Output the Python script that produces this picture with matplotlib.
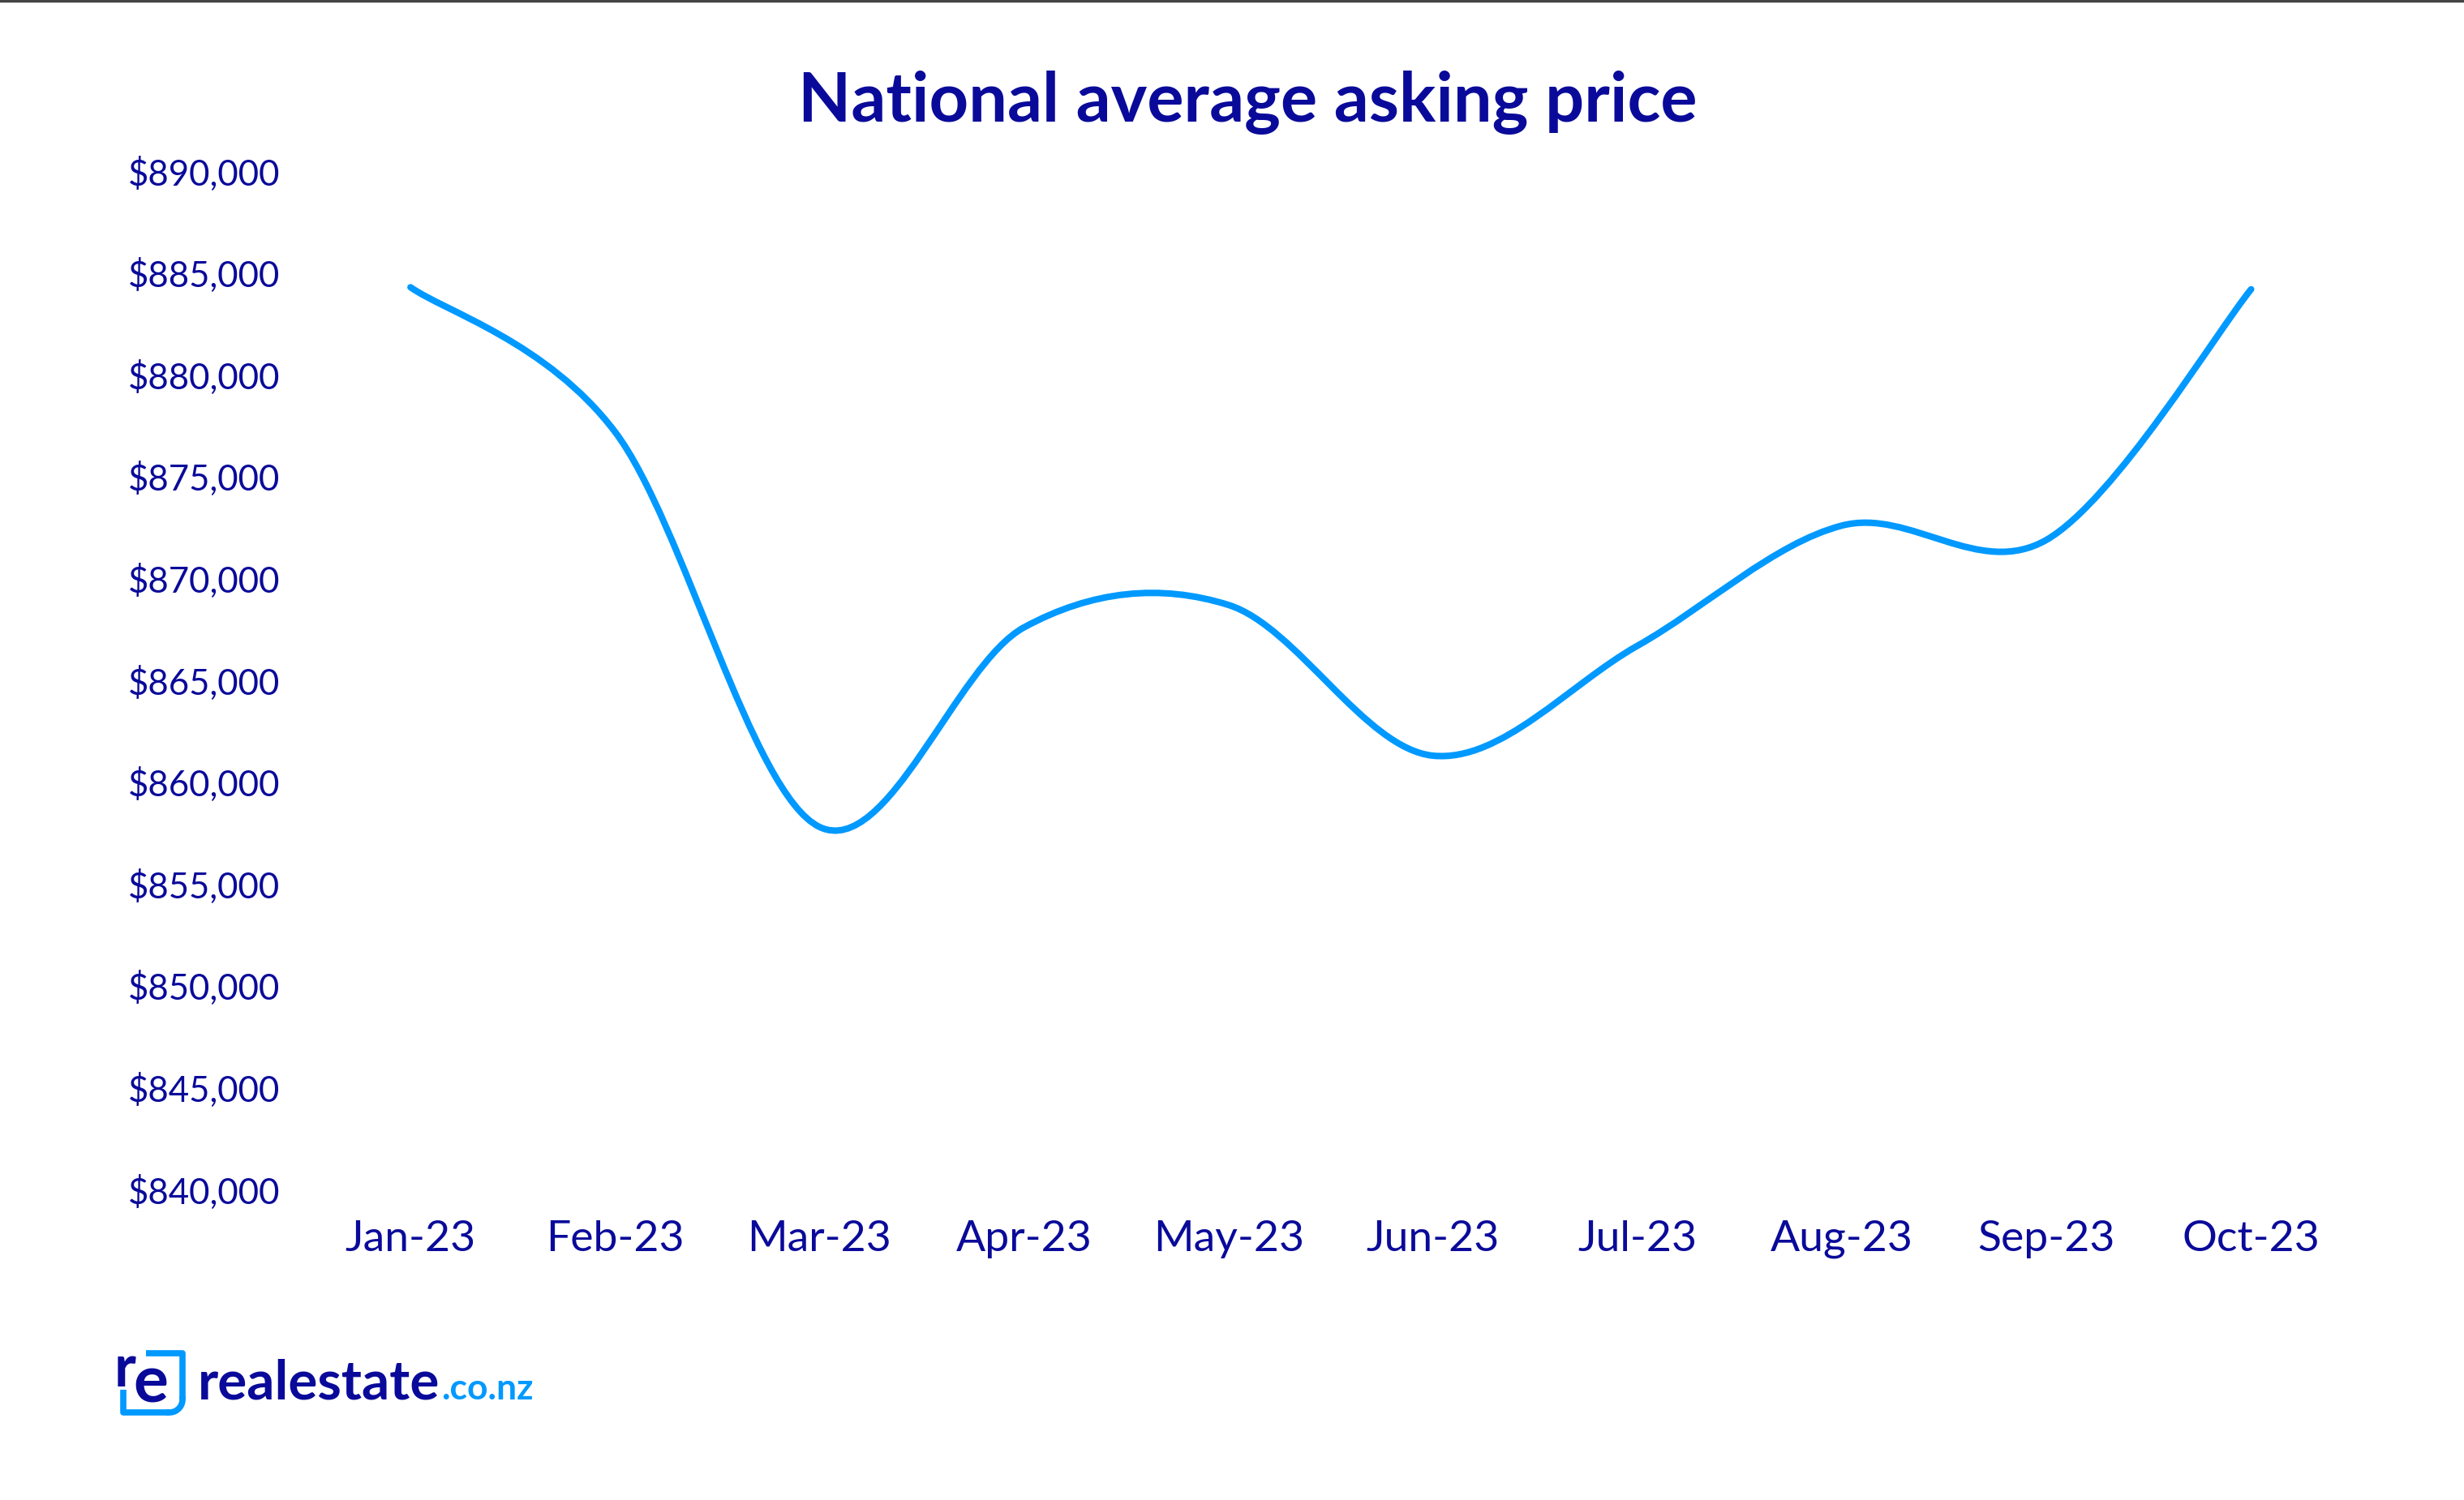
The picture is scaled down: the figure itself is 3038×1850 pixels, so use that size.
import matplotlib
matplotlib.use("Agg")
import matplotlib.pyplot as plt
import numpy as np
from matplotlib.path import Path
from matplotlib.patches import PathPatch
from matplotlib.lines import Line2D

# data
months = ['Jan-23', 'Feb-23', 'Mar-23', 'Apr-23', 'May-23',
          'Jun-23', 'Jul-23', 'Aug-23', 'Sep-23', 'Oct-23']
asking_price = [884300, 877200, 857800, 867600, 868700,
                861300, 866700, 872600, 871900, 884200]
y_ticks = [840000, 845000, 850000, 855000, 860000, 865000,
           870000, 875000, 880000, 885000, 890000]

navy = '#0a0a9a'
blue = '#0099ff'
plt.rcParams['font.family'] = ['Lato', 'DejaVu Sans']

fig = plt.figure(figsize=(30.38, 18.5), dpi=100)
ax = fig.add_axes([0.1251, 0.2070, 0.830, 0.6789])

# smoothed line (excel style), bezier segments through each point
x = np.arange(len(asking_price), dtype=float)
y = np.array(asking_price, dtype=float)
pts = np.column_stack([x, y])
ext = np.vstack([pts[0], pts, pts[-1]])
verts = [pts[0]]
codes = [Path.MOVETO]
for i in range(len(pts) - 1):
    p0, p1, p2, p3 = ext[i], ext[i + 1], ext[i + 2], ext[i + 3]
    verts += [p1 + (p2 - p0) / 6, p2 - (p3 - p1) / 6, p2]
    codes += [Path.CURVE4] * 3
ax.add_patch(PathPatch(Path(verts, codes), fill=False, edgecolor=blue,
                       lw=5.8, capstyle='round', joinstyle='round'))

ax.set_xlim(-0.5, len(months) - 0.5)
ax.set_ylim(840000, 890000)
ax.set_xticks(x)
ax.set_xticklabels(months)
ax.set_yticks(y_ticks)
ax.set_yticklabels(['${:,.0f}'.format(v) for v in y_ticks])
ax.tick_params(axis='x', length=0, pad=27, labelsize=38.5, labelcolor=navy)
ax.tick_params(axis='y', length=0, pad=25, labelsize=31.5, labelcolor=navy)
for s in ax.spines.values():
    s.set_visible(False)

fig.text(0.5065, 0.932, 'National average asking price', ha='center', va='center',
         fontsize=61, fontweight='bold', color=navy)

# thin border at the top of the image
fig.add_artist(Line2D([0, 1], [0.9995, 0.9995], color='#444444', lw=2.5,
                      transform=fig.transFigure))

# logo
lg = fig.add_axes([0, 0, 1, 1], zorder=-1)
lg.set_xlim(0, 3038)
lg.set_ylim(1850, 0)
lg.axis('off')
lg.plot([180, 225, 225], [1669, 1669, 1726], color=blue, lw=5.5,
        solid_capstyle='butt')
t = np.linspace(0, np.pi / 2, 20)
lg.plot(209 + 16 * np.cos(t), 1726 + 16 * np.sin(t), color=blue, lw=5.5)
lg.plot([209, 152, 152], [1742, 1742, 1714], color=blue, lw=5.5,
        solid_capstyle='butt')
lg.text(141, 1690, 'r', fontsize=52, fontweight='bold', color=navy,
        ha='left', va='center', family='Lato')
lg.text(186, 1707, 'e', fontsize=58, fontweight='bold', color=navy,
        ha='center', va='center', family='Lato')
tx = lg.text(244, 1726, 'realestate', fontsize=48.5, fontweight='bold',
             color=navy, ha='left', va='baseline')
fig.canvas.draw()
bb = tx.get_window_extent()
lg.text(bb.x1 + 2, 1726, '.co.nz', fontsize=32, fontweight='bold',
        color=blue, ha='left', va='baseline')

fig.savefig('out.png', dpi=100, facecolor='white')
